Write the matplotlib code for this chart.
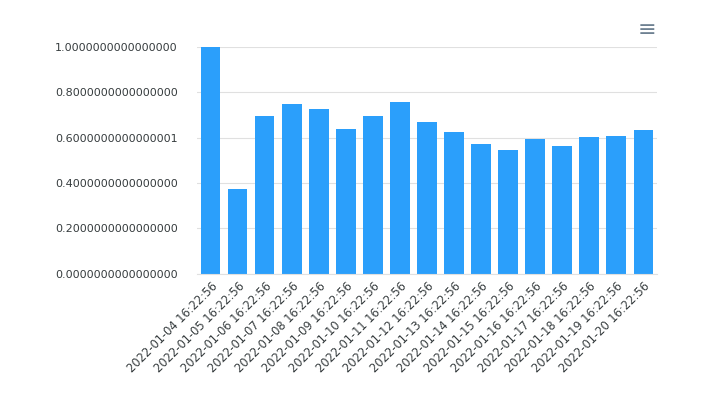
import matplotlib
matplotlib.use("Agg")
import matplotlib.pyplot as plt

dates = ["2022-01-%02d 16:22:56" % d for d in range(4, 21)]
values = [1.0, 0.374, 0.696, 0.749, 0.727, 0.639, 0.696, 0.758, 0.670, 0.626,
          0.573, 0.546, 0.595, 0.564, 0.604, 0.608, 0.634]
yticks = [0.0, 0.2, 0.4, 0.6, 0.8, 1.0]
ylabels = ["0.0000000000000000", "0.2000000000000000", "0.4000000000000000",
           "0.6000000000000001", "0.8000000000000000", "1.0000000000000000"]

fig = plt.figure(figsize=(7.17, 4.01), dpi=100)
ax = fig.add_axes([0.275, 0.317, 0.641, 0.566])
x = range(len(dates))
ax.bar(x, values, width=0.72, color="#2b9ffb", zorder=2)
ax.set_xlim(-0.5, len(dates) - 0.5)
ax.set_ylim(0, 1.0)
ax.set_yticks(yticks)
ax.set_yticklabels(ylabels, fontsize=8, color="#373d3f")
ax.set_xticks(list(x))
ax.set_xticklabels(dates, rotation=45, ha="right", rotation_mode="anchor",
                   fontsize=8.3, color="#373d3f")
ax.grid(axis="y", color="#e0e0e0", linewidth=0.8, zorder=0)
for s in ["top", "right", "left"]:
    ax.spines[s].set_visible(False)
ax.spines["bottom"].set_color("#e0e0e0")
ax.tick_params(axis="y", length=0, pad=14)
ax.tick_params(axis="x", length=0, pad=4)
for yy in [0.921, 0.926, 0.931]:
    pass
fig.text(0.902, 0.925, "\u2261", fontsize=16, color="#6e8192", ha="center", va="center")
fig.savefig("out.png", dpi=100)
